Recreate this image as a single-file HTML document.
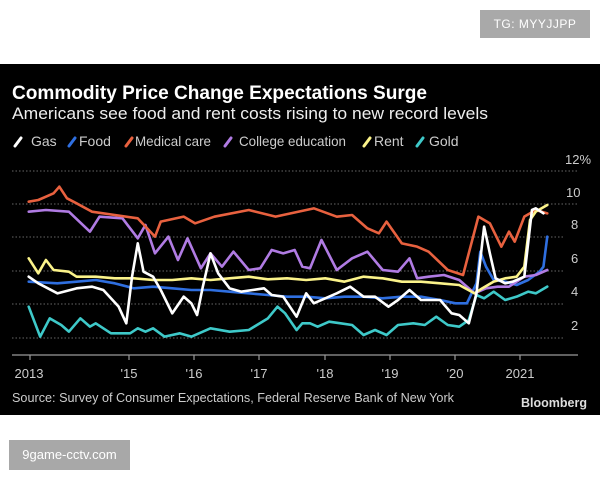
<!DOCTYPE html>
<html><head><meta charset="utf-8"><style>
body{margin:0;width:600px;height:480px;background:#fff;position:relative;overflow:hidden;font-family:"Liberation Sans",sans-serif}
.panel{position:absolute;left:0;top:64px;width:600px;height:351px;background:#000}
.t{position:absolute;color:#fff;white-space:nowrap}
</style></head><body>
<div class="t" style="left:480px;top:10px;width:110px;height:28px;background:#a9a9a9;font-size:12px;line-height:28px;text-align:center;letter-spacing:0.5px">TG: MYYJJPP</div>
<div class="panel"></div>
<div class="t" style="left:9px;top:440px;width:121px;height:30px;background:#a8a8a8;font-size:13px;line-height:30px;text-align:center">9game-cctv.com</div>
<svg style="position:absolute;left:0;top:0" width="600" height="480">
<g font-family="Liberation Sans" fill="#ccc">
<text x="12" y="99" font-size="19" font-weight="bold" fill="#fff" textLength="415" lengthAdjust="spacingAndGlyphs">Commodity Price Change Expectations Surge</text>
<text x="12" y="119" font-size="17" fill="#eee" textLength="476" lengthAdjust="spacingAndGlyphs">Americans see food and rent costs rising to new record levels</text>
<g stroke-width="3" stroke-linecap="round" font-size="14">
<line x1="15" y1="146" x2="21" y2="138" stroke="#fff"/><text x="31" y="146" stroke="none">Gas</text>
<line x1="69" y1="146" x2="75" y2="138" stroke="#2f6fe0"/><text x="79" y="146" stroke="none">Food</text>
<line x1="126" y1="146" x2="132" y2="138" stroke="#e8613f"/><text x="135" y="146" stroke="none" textLength="76" lengthAdjust="spacingAndGlyphs">Medical care</text>
<line x1="225" y1="146" x2="231" y2="138" stroke="#b07be3"/><text x="239" y="146" stroke="none" textLength="107" lengthAdjust="spacingAndGlyphs">College education</text>
<line x1="364" y1="146" x2="370" y2="138" stroke="#fbf38a"/><text x="374" y="146" stroke="none">Rent</text>
<line x1="417" y1="146" x2="423" y2="138" stroke="#3ec9c9"/><text x="429" y="146" stroke="none">Gold</text>
</g>
<g stroke="#666" stroke-dasharray="1.5 2" stroke-width="1">
<line x1="12" y1="171" x2="578" y2="171"/><line x1="12" y1="204" x2="578" y2="204"/>
<line x1="12" y1="237" x2="563" y2="237"/><line x1="12" y1="271" x2="563" y2="271"/>
<line x1="12" y1="304" x2="563" y2="304"/><line x1="12" y1="338" x2="563" y2="338"/>
</g>
<g font-size="13" fill="#ccc">
<text x="565" y="164">12%</text><text x="566" y="197">10</text><text x="571" y="229">8</text>
<text x="571" y="263">6</text><text x="571" y="296">4</text><text x="571" y="330">2</text>
</g>
<line x1="12" y1="355" x2="578" y2="355" stroke="#999" stroke-width="1.2"/>
<g stroke="#999" stroke-width="1.2">
<line x1="30" y1="355" x2="30" y2="360"/><line x1="129" y1="355" x2="129" y2="360"/><line x1="194" y1="355" x2="194" y2="360"/><line x1="259" y1="355" x2="259" y2="360"/><line x1="325" y1="355" x2="325" y2="360"/><line x1="390" y1="355" x2="390" y2="360"/><line x1="455" y1="355" x2="455" y2="360"/><line x1="520" y1="355" x2="520" y2="360"/>
</g>
<g font-size="13" fill="#ccc" text-anchor="middle">
<text x="29" y="378">2013</text><text x="129" y="378">'15</text><text x="194" y="378">'16</text><text x="259" y="378">'17</text><text x="325" y="378">'18</text><text x="390" y="378">'19</text><text x="455" y="378">'20</text><text x="520" y="378">2021</text>
</g>
<text x="12" y="402" font-size="12.5" fill="#ccc" textLength="442" lengthAdjust="spacingAndGlyphs">Source: Survey of Consumer Expectations, Federal Reserve Bank of New York</text>
<text x="587" y="407" font-size="12.5" font-weight="bold" fill="#ddd" text-anchor="end">Bloomberg</text>
</g>
<g transform="translate(0,200) scale(0.3827,0.33333)" fill="none" stroke-width="2.6" stroke-linejoin="round" stroke-linecap="round">
<polyline vector-effect="non-scaling-stroke" stroke="#3ec9c9" points="75,320 105,410 130,355 160,375 180,395 210,355 235,380 250,370 290,400 340,400 360,385 380,395 400,385 430,410 470,400 500,410 550,385 600,395 650,390 700,355 725,320 745,340 775,390 790,370 810,370 830,380 860,365 890,370 920,375 950,405 980,390 1010,405 1040,375 1080,370 1110,375 1140,350 1170,375 1200,380 1225,360 1245,285 1265,295 1290,275 1320,300 1350,290 1380,275 1400,280 1430,260"/>
<polyline vector-effect="non-scaling-stroke" stroke="#2f6fe0" points="75,245 150,250 200,245 250,240 300,250 350,265 400,260 450,265 500,270 550,270 600,275 650,280 700,285 750,290 800,290 850,295 900,290 950,290 1000,295 1050,290 1100,290 1150,300 1190,310 1220,310 1245,250 1255,155 1270,200 1290,240 1320,245 1350,255 1380,240 1410,215 1420,200 1430,110"/>
<polyline vector-effect="non-scaling-stroke" stroke="#b07be3" points="75,35 120,30 180,35 235,95 260,50 320,55 360,115 380,75 405,160 440,110 465,180 490,115 525,205 550,160 580,200 610,155 650,210 680,205 710,150 740,160 770,150 790,200 810,205 840,120 880,210 920,175 960,155 1000,210 1040,215 1070,175 1090,235 1120,230 1160,225 1200,240 1240,280 1270,265 1300,260 1330,260 1370,230 1400,225 1430,210"/>
<polyline vector-effect="non-scaling-stroke" stroke="#e8613f" points="75,5 100,0 120,-10 140,-20 155,-40 175,-5 200,10 240,35 300,45 360,55 405,110 420,65 480,50 510,70 560,50 650,30 720,50 820,25 880,50 920,45 960,85 990,100 1010,65 1050,130 1090,140 1120,155 1170,210 1210,225 1250,50 1280,70 1310,140 1330,95 1345,125 1370,50 1400,30 1430,40"/>
<polyline vector-effect="non-scaling-stroke" stroke="#fbf38a" points="75,175 100,220 120,180 140,210 180,215 200,230 250,230 300,235 350,235 400,240 450,240 500,235 550,240 600,235 650,230 700,238 750,235 800,240 850,235 900,245 950,230 1000,235 1050,245 1100,245 1150,250 1200,255 1240,280 1260,265 1290,245 1320,235 1350,230 1370,200 1385,60 1400,35 1430,15"/>
<polyline vector-effect="non-scaling-stroke" stroke="#fff" points="75,230 100,250 150,280 200,265 240,260 270,270 310,320 330,370 345,230 360,130 375,215 400,230 420,270 450,340 480,290 500,310 515,345 530,260 550,160 570,220 600,265 630,275 660,270 690,265 710,285 740,290 775,350 800,280 820,310 850,295 880,280 915,260 950,290 980,290 1015,320 1040,300 1070,270 1100,300 1150,300 1180,340 1200,345 1225,370 1245,280 1265,80 1280,160 1295,235 1320,250 1340,245 1370,230 1390,30 1400,25 1420,40"/>
</g>
</svg>
</body></html>
